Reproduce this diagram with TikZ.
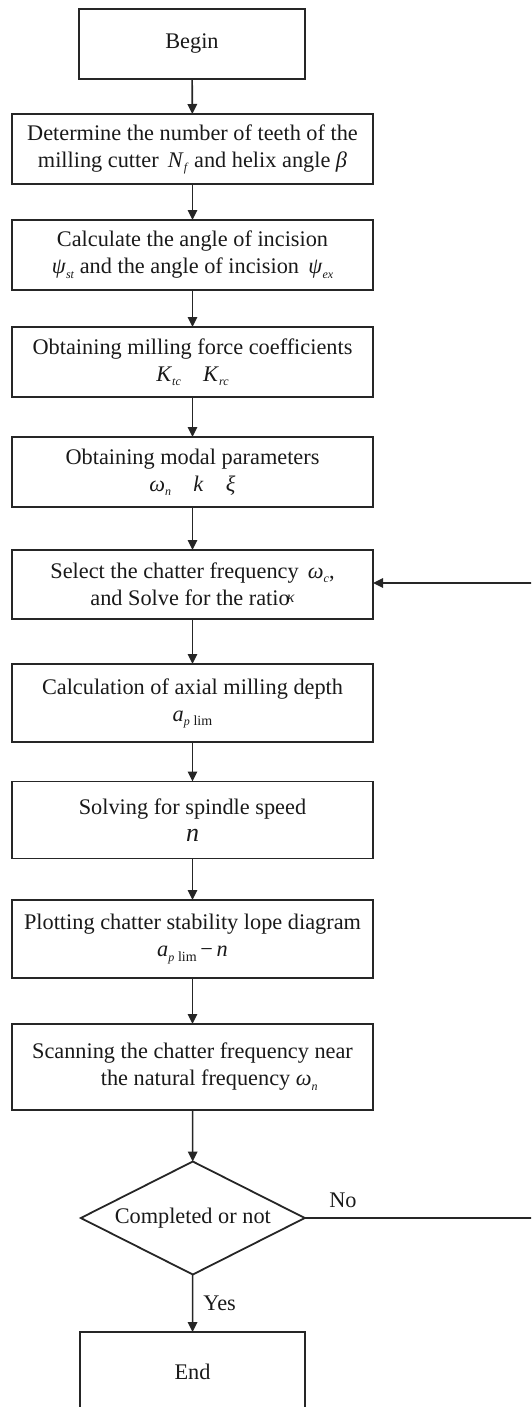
\documentclass[tikz,border=0pt]{standalone}
\usepackage{fontspec}
\setmainfont{Liberation Serif}
\usetikzlibrary{shapes.geometric,arrows.meta}
\definecolor{ln}{gray}{0.15}
\newcommand{\sbs}[1]{\raisebox{-0.4ex}{\fontsize{12}{12}\selectfont\textit{#1}}}
\newcommand{\sbr}[1]{\raisebox{-0.4ex}{\fontsize{14}{14}\selectfont #1}}
\begin{document}
\begin{tikzpicture}[x=1pt,y=-1pt,
  box/.style={draw=ln,line width=1.8pt,minimum width=361pt,minimum height=70pt,inner sep=0pt,outer sep=0pt,align=center,font=\fontsize{22.3}{27}\selectfont,text=black!90},
  sbox/.style={box,minimum width=226pt},
  dec/.style={draw=ln,line width=1.8pt,diamond,aspect=2,minimum width=224pt,minimum height=113pt,inner sep=0pt,outer sep=0pt,font=\fontsize{22.3}{27}\selectfont,text=black!90},
  lbl/.style={font=\fontsize{22.3}{27}\selectfont,text=black!90,inner sep=0pt},
  arr/.style={draw=ln,line width=1.6pt,-{Triangle[length=10pt,width=9.5pt]}}]
\useasboundingbox (0,0) rectangle (531,1407);
\clip (0,0) rectangle (531,1407);
\node[sbox] (b1) at (192,44) {Begin};
\node[box] (b2) at (192.5,149) {Determine the number of teeth of the\\ milling cutter \,\textit{N}\sbs{f} and helix angle \textit{β}};
\node[box] (b3) at (192.5,255) {Calculate the angle of incision\\ \textit{ψ}\sbs{st} and the angle of incision \,\textit{ψ}\sbs{ex}};
\node[box] (b4) at (192.5,362) {Obtaining milling force coefficients\\ \textit{K}\sbs{tc}\quad\textit{K}\sbs{rc}};
\node[box] (b5) at (192.5,472) {Obtaining modal parameters\\ \textit{ω}\sbs{n}\quad\textit{k}\quad\textit{ξ}};
\node[box,minimum height=69pt] (b6) at (192.5,584.5) {Select the chatter frequency \,\textit{ω}\sbs{c},\\ and Solve for the ratio\kern-3pt\raisebox{0.3ex}{\fontsize{16}{16}\selectfont\textit{κ}}};
\node[box,minimum height=78pt] (b7) at (192.5,703) {Calculation of axial milling depth\\ \textit{a}\sbs{p}\,\sbr{lim}};
\node[box,minimum height=77pt] (b8) at (192.5,820) {Solving for spindle speed\\ {\fontsize{26}{27}\selectfont\textit{n}}};
\node[box,minimum height=78pt] (b9) at (192.5,939) {Plotting chatter stability lope diagram\\ \textit{a}\sbs{p}\,\sbr{lim}\,−\,\textit{n}};
\node[box,minimum height=86pt] (b10) at (192.5,1067) {Scanning the chatter frequency near\\ \hspace*{1.5em}the natural frequency \textit{ω}\sbs{n}};
\node[dec] (d) at (192.8,1218) {Completed or not};
\node[sbox,minimum width=225pt,minimum height=80pt] (e) at (192.5,1372) {End};
\draw[arr] (b1) -- (b2);
\draw[arr] (b2) -- (b3);
\draw[arr] (b3) -- (b4);
\draw[arr] (b4) -- (b5);
\draw[arr] (b5) -- (b6);
\draw[arr] (b6) -- (b7);
\draw[arr] (b7) -- (b8);
\draw[arr] (b8) -- (b9);
\draw[arr] (b9) -- (b10);
\draw[arr] (b10) -- (d);
\draw[arr] (d) -- node[lbl,right=10pt,pos=0.5] (yes) {Yes} (e);
\coordinate (r) at (545,1218);
\draw[arr] (d.east) -- (r) |- ([yshift=1.5pt]b6.east);
\node[lbl] (no) at (343,1200) {No};
\end{tikzpicture}
\end{document}
